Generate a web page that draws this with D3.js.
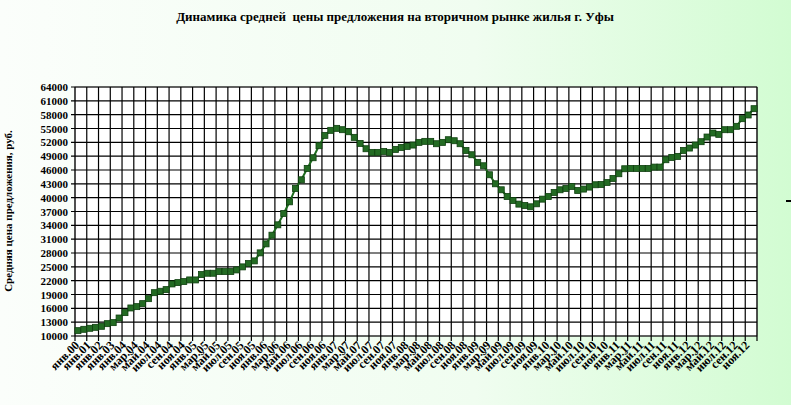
<!DOCTYPE html>
<html><head><meta charset="utf-8">
<script src="https://cdn.jsdelivr.net/npm/d3@7"></script>
<style>body{margin:0;}svg{display:block;}text{font-family:"Liberation Serif","DejaVu Serif",serif;font-weight:bold;}</style>
</head><body>
<script>
const title = "Динамика средней\u00a0 цены предложения на вторичном рынке жилья г. Уфы";
const yTitle = "Средняя цена предложения, руб.";
const monthNames = ["янв","фев","мар","апр","май","июн","июл","авг","сен","окт","ноя","дек"];
const halfYearNames = ["янв","июл"];
const earlyYears = ["00","01","02","03"];
const monthlyYears = ["04","05","06","07","08","09","10","11","12"];
const categories = [];
earlyYears.forEach(y => halfYearNames.forEach(m => categories.push(m + "." + y)));
monthlyYears.forEach(y => monthNames.forEach(m => categories.push(m + "." + y)));
const prices = [
 11160,11450,11670,11880,12100,12680,12900,13900,15070,16080,16370,17020,18100,19400,19700,20060,
 21290,21580,21800,22160,22160,23320,23610,23610,23970,23970,23970,24330,24990,25710,26290,28030,
 29980,31860,34110,36570,39100,42000,43880,46340,48660,51270,53510,54600,55030,54740,54300,53080,
 51770,50610,49820,49820,50030,49820,50470,50900,51120,
 51410,51990,52210,52210,51700,51990,52570,52350,51700,50250,49310,47650,46920,44970,43010,41710,
 40260,39390,38600,38310,38020,38670,39680,40260,41130,41710,42000,42440,41570,41860,42290,42800,
 42870,43300,44170,45190,46270,46340,46340,46340,46340,46630,46630,48230,48730,48950,50250,50760,
 51410,52140,53150,54020,53730,54740,54740,55470,57130,57930,59300
];
const yTicks = d3.range(10000, 64001, 3000);

const W = 791, H = 405;
const m = {left: 75, right: 757, top: 87, bottom: 336};
const svg = d3.select("body").append("svg").attr("width", W).attr("height", H);
const defs = svg.append("defs");
const g = defs.append("linearGradient").attr("id","bg").attr("x1","0").attr("y1","0").attr("x2","1").attr("y2","0");
g.append("stop").attr("offset","0").attr("stop-color","#fbfefb");
g.append("stop").attr("offset","0.6").attr("stop-color","#f0fdf0");
g.append("stop").attr("offset","1").attr("stop-color","#d2fcd2");
svg.append("rect").attr("width",W).attr("height",H).attr("fill","url(#bg)");

const x = d3.scaleBand().domain(categories).range([m.left, m.right]).padding(0);
const y = d3.scaleLinear().domain([10000, 64000]).range([m.bottom, m.top]);

svg.append("rect").attr("x",m.left).attr("y",m.top).attr("width",m.right-m.left).attr("height",m.bottom-m.top)
  .attr("fill","#fff").attr("stroke","#888").attr("stroke-width",1);

svg.append("g").selectAll("line").data(yTicks).join("line")
  .attr("x1",m.left-4).attr("x2",m.right).attr("y1",d=>y(d)).attr("y2",d=>y(d))
  .attr("stroke","#000").attr("stroke-width",1.2);
const vIdx = d3.range(0, categories.length + 1, 2);
svg.append("g").selectAll("line").data(vIdx).join("line")
  .attr("x1",i=>m.left + i*x.bandwidth()).attr("x2",i=>m.left + i*x.bandwidth())
  .attr("y1",m.top).attr("y2",m.bottom+5)
  .attr("stroke","#000").attr("stroke-width",1.2);

svg.append("g").selectAll("text").data(yTicks).join("text")
  .attr("x",m.left-7).attr("y",d=>y(d)+4).attr("text-anchor","end")
  .attr("font-size",11).text(d=>d);
const labeled = categories.filter((c,i)=>i%2===0);
svg.append("g").selectAll("text").data(labeled).join("text")
  .attr("transform",d=>`translate(${x(d)+x.bandwidth()*0.5+2},${m.bottom+10}) rotate(-45)`)
  .attr("text-anchor","end").attr("font-size",12)
  .text(d=>d);

const line = d3.line().x((d,i)=>x(categories[i])+x.bandwidth()/2).y(d=>y(d));
svg.append("path").datum(prices).attr("d",line).attr("fill","none").attr("stroke","#1d6b1d").attr("stroke-width",2);
svg.append("g").selectAll("rect").data(prices).join("rect")
  .attr("x",(d,i)=>x(categories[i])+x.bandwidth()/2-3).attr("y",d=>y(d)-3)
  .attr("width",6).attr("height",6).attr("fill","#236b23").attr("stroke","#0f3f0f").attr("stroke-width",0.8);

svg.append("text").attr("x",395).attr("y",21).attr("text-anchor","middle")
  .attr("font-size",13).text(title);
svg.append("text").attr("transform","translate(12,211) rotate(-90)").attr("text-anchor","middle")
  .attr("font-size",11).text(yTitle);
svg.append("line").attr("x1",786).attr("x2",791).attr("y1",201).attr("y2",201).attr("stroke","#000").attr("stroke-width",2);
</script>
</body></html>
